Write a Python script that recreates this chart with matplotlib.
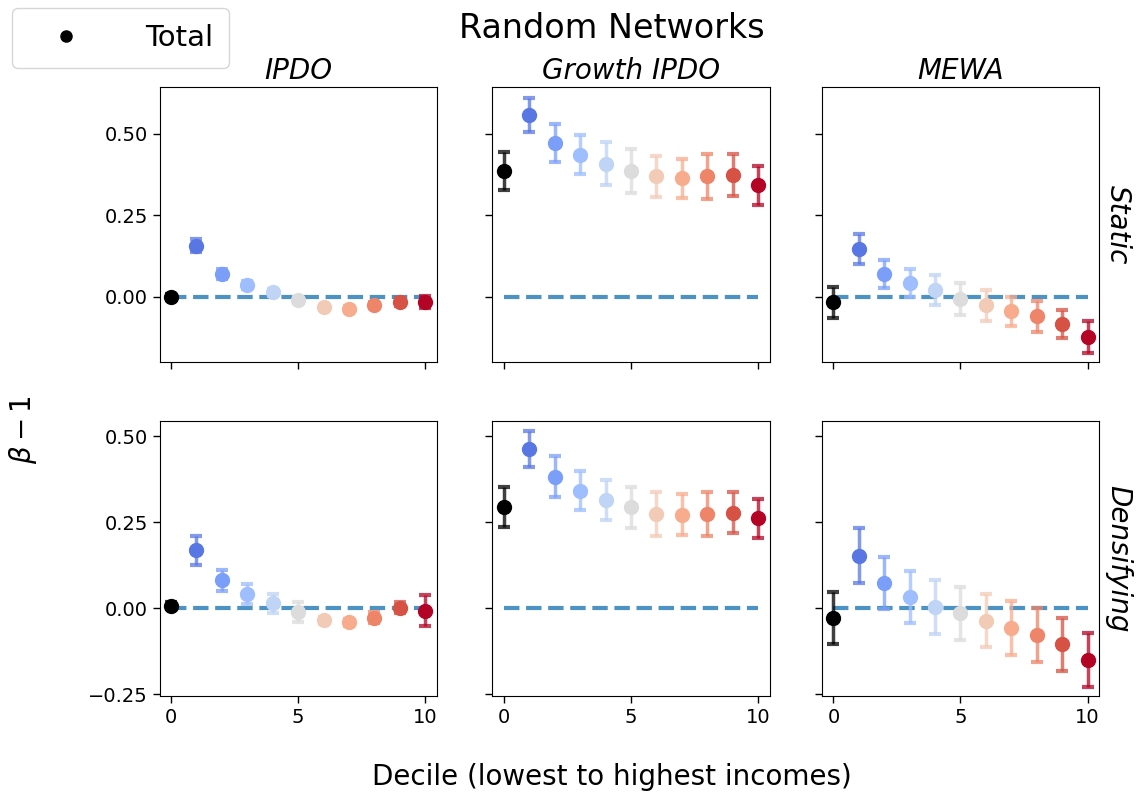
import numpy as np
import matplotlib
matplotlib.use("Agg")
import matplotlib.pyplot as plt
from matplotlib.lines import Line2D

# deciles: 0 = total, 1..10 = income deciles
deciles = np.arange(11)
models = ["IPDO", "Growth IPDO", "MEWA"]
scenarios = ["Static", "Densifying"]

# beta - 1 estimates and error half-widths, per scenario / model
static_ipdo = [0.000, 0.157, 0.071, 0.036, 0.014, -0.010, -0.032, -0.037, -0.024, -0.016, -0.016]
static_ipdo_err = [0.008, 0.020, 0.015, 0.012, 0.010, 0.010, 0.008, 0.008, 0.010, 0.012, 0.018]
static_growth = [0.385, 0.557, 0.471, 0.435, 0.408, 0.386, 0.369, 0.363, 0.369, 0.374, 0.342]
static_growth_err = [0.058, 0.052, 0.058, 0.060, 0.066, 0.067, 0.062, 0.060, 0.070, 0.065, 0.060]
static_mewa = [-0.017, 0.147, 0.071, 0.043, 0.020, -0.005, -0.026, -0.044, -0.059, -0.083, -0.123]
static_mewa_err = [0.047, 0.047, 0.043, 0.044, 0.046, 0.049, 0.048, 0.044, 0.047, 0.042, 0.048]

dens_ipdo = [0.007, 0.168, 0.081, 0.041, 0.014, -0.011, -0.035, -0.041, -0.027, 0.002, -0.007]
dens_ipdo_err = [0.010, 0.043, 0.030, 0.030, 0.028, 0.028, 0.010, 0.010, 0.015, 0.015, 0.046]
dens_growth = [0.294, 0.463, 0.382, 0.342, 0.314, 0.293, 0.274, 0.272, 0.274, 0.278, 0.261]
dens_growth_err = [0.059, 0.052, 0.060, 0.057, 0.058, 0.059, 0.064, 0.059, 0.064, 0.060, 0.057]
dens_mewa = [-0.029, 0.152, 0.073, 0.033, 0.004, -0.014, -0.036, -0.058, -0.077, -0.104, -0.151]
dens_mewa_err = [0.075, 0.080, 0.076, 0.076, 0.078, 0.077, 0.077, 0.079, 0.079, 0.077, 0.079]

values = [[static_ipdo, static_growth, static_mewa],
          [dens_ipdo, dens_growth, dens_mewa]]
errors = [[static_ipdo_err, static_growth_err, static_mewa_err],
          [dens_ipdo_err, dens_growth_err, dens_mewa_err]]
row_ylims = [(-0.200, 0.643), (-0.256, 0.544)]

colors = ["black"] + [plt.cm.coolwarm(v) for v in np.linspace(0.1, 1.0, 10)]

fig = plt.figure(figsize=(11.4, 8.05), dpi=100)
lefts = [0.140, 0.432, 0.721]
bottoms = [0.550, 0.135]
w, h = 0.243, 0.342

for r in range(2):
    for c in range(3):
        ax = fig.add_axes([lefts[c], bottoms[r], w, h])
        ax.hlines(0, 0, 10, colors="tab:blue", linestyles="--", lw=3, alpha=0.8, zorder=1)
        for i, x in enumerate(deciles):
            ax.errorbar(x, values[r][c][i], yerr=errors[r][c][i], fmt="none",
                        ecolor=colors[i], elinewidth=2.5, capsize=4, capthick=3,
                        alpha=0.75, zorder=2)
            ax.plot(x, values[r][c][i], "o", color=colors[i], ms=10, zorder=3)
        ax.set_xticks([0, 5, 10])
        ax.set_yticks([-0.25, 0.0, 0.25, 0.5])
        ax.set_xlim(-0.45, 10.45)
        ax.set_ylim(*row_ylims[r])
        ax.tick_params(labelsize=14, width=1, length=5)
        if r == 0:
            ax.set_xticklabels([])
            ax.set_title(models[c], fontsize=20, style="italic", pad=6)
        if c > 0:
            ax.set_yticklabels([])
        else:
            ax.set_yticklabels(["\u22120.25", "0.00", "0.25", "0.50"])
        if c == 2:
            ax.yaxis.set_label_position("right")
            ax.set_ylabel(scenarios[r], fontsize=20, style="italic",
                          rotation=270, labelpad=24)

fig.suptitle("Random Networks", fontsize=24, x=0.537, y=0.985)
fig.text(0.02, 0.466, r"$\beta - 1$", fontsize=20, rotation=90, va="center", ha="center")
fig.text(0.537, 0.035, "Decile (lowest to highest incomes)", fontsize=20, ha="center", va="center")

handle = Line2D([], [], marker="o", color="black", ls="none", ms=8)
fig.legend([handle], ["Total"], loc="upper left", bbox_to_anchor=(0.0105, 0.99),
           borderaxespad=0, fontsize=21, frameon=True, handlelength=2.6,
           handletextpad=1.4, borderpad=0.55)

fig.savefig("out.png", dpi=100)
